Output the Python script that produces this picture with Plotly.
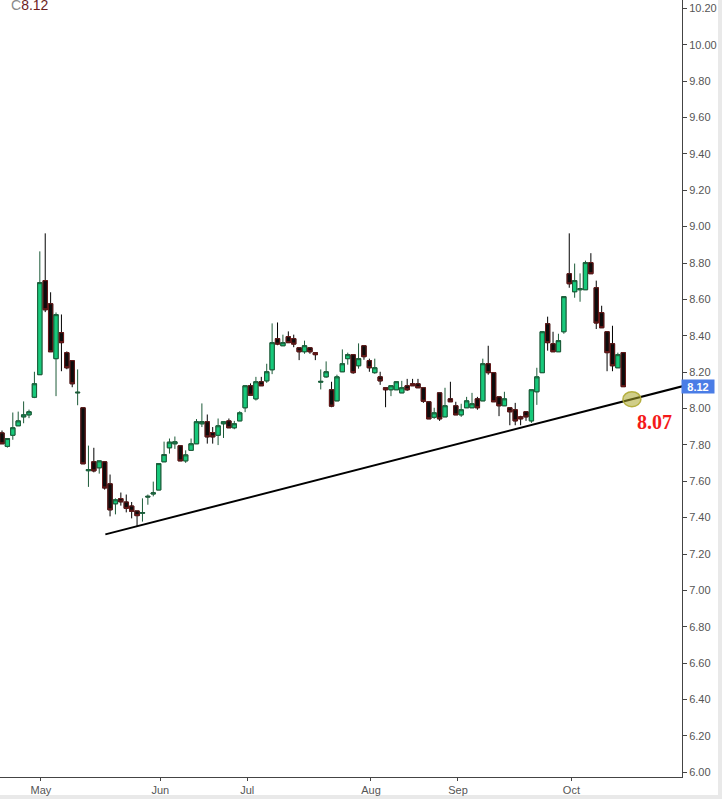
import plotly.graph_objects as go

# ---- data ----
opens = [7.866, 7.792, 7.853, 7.905, 7.954, 7.965, 8.062, 8.186, 8.703, 8.576,
         8.274, 8.417, 8.307, 8.263, 8.086, 8.004, 7.658, 7.707, 7.674, 7.707,
         7.586, 7.476, 7.505, 7.486, 7.464, 7.437, 7.424, 7.513, 7.530, 7.552,
         7.707, 7.784, 7.806, 7.795, 7.712, 7.770, 7.806, 7.916, 7.927, 7.868,
         7.853, 7.916, 7.932, 7.894, 7.932, 8.004, 8.125, 8.053, 8.147, 8.152,
         8.213, 8.384, 8.345, 8.395, 8.384, 8.334, 8.312, 8.334, 8.307, 8.145,
         8.174, 8.103, 8.042, 8.202, 8.274, 8.296, 8.235, 8.345, 8.263, 8.197,
         8.174, 8.114, 8.103, 8.103, 8.086, 8.125, 8.136, 8.136, 8.114, 8.037,
         7.952, 8.086, 7.954, 8.053, 8.015, 7.965, 8.004, 8.004, 8.053, 8.042,
         8.246, 8.197, 8.064, 8.015, 8.004, 7.993, 7.954, 7.982, 7.932, 8.092,
         8.197, 8.466, 8.356, 8.312, 8.422, 8.741, 8.642, 8.653, 8.653, 8.802,
         8.664, 8.527, 8.422, 8.356, 8.224, 8.307]
highs = [7.879, 7.835, 7.978, 7.983, 8.039, 7.994, 8.202, 8.864, 8.963, 8.639,
         8.528, 8.517, 8.314, 8.263, 8.215, 8.004, 7.796, 7.784, 7.712, 7.707,
         7.637, 7.506, 7.538, 7.527, 7.486, 7.437, 7.506, 7.527, 7.598, 7.697,
         7.818, 7.835, 7.846, 7.795, 7.770, 7.835, 7.942, 8.028, 7.967, 7.898,
         7.945, 7.927, 7.945, 7.932, 7.985, 8.125, 8.138, 8.174, 8.174, 8.246,
         8.468, 8.473, 8.406, 8.424, 8.406, 8.334, 8.373, 8.334, 8.307, 8.215,
         8.259, 8.147, 8.186, 8.325, 8.307, 8.296, 8.358, 8.345, 8.274, 8.274,
         8.202, 8.114, 8.125, 8.147, 8.152, 8.163, 8.163, 8.163, 8.114, 8.037,
         8.004, 8.086, 8.114, 8.147, 8.037, 8.026, 8.064, 8.086, 8.064, 8.274,
         8.345, 8.197, 8.064, 8.092, 8.004, 8.031, 7.960, 7.982, 8.103, 8.224,
         8.422, 8.505, 8.422, 8.411, 8.615, 8.963, 8.797, 8.743, 8.813, 8.854,
         8.703, 8.565, 8.422, 8.455, 8.307, 8.307]
lows = [7.806, 7.785, 7.828, 7.905, 7.919, 7.947, 8.057, 8.186, 8.530, 8.312,
        8.068, 8.205, 8.216, 8.117, 8.018, 7.696, 7.569, 7.649, 7.642, 7.554,
        7.407, 7.418, 7.466, 7.429, 7.396, 7.349, 7.378, 7.471, 7.517, 7.552,
        7.707, 7.752, 7.778, 7.712, 7.701, 7.770, 7.806, 7.898, 7.807, 7.807,
        7.799, 7.838, 7.894, 7.886, 7.932, 7.980, 8.073, 8.044, 8.125, 8.141,
        8.189, 8.348, 8.345, 8.362, 8.337, 8.266, 8.301, 8.301, 8.266, 8.105,
        8.169, 8.007, 8.042, 8.202, 8.241, 8.191, 8.219, 8.268, 8.202, 8.191,
        8.130, 8.007, 8.068, 8.103, 8.086, 8.097, 8.125, 8.114, 8.031, 7.943,
        7.943, 7.932, 7.954, 8.037, 7.965, 7.954, 8.004, 8.004, 7.993, 8.042,
        8.186, 8.037, 7.958, 8.015, 7.908, 7.908, 7.908, 7.932, 7.921, 8.020,
        8.197, 8.318, 8.312, 8.312, 8.411, 8.664, 8.609, 8.587, 8.653, 8.741,
        8.437, 8.444, 8.205, 8.205, 8.224, 8.120]
closes = [7.806, 7.835, 7.894, 7.932, 7.965, 7.982, 8.136, 8.692, 8.543, 8.312,
          8.516, 8.362, 8.224, 8.136, 8.089, 7.696, 7.664, 7.657, 7.712, 7.563,
          7.443, 7.498, 7.487, 7.451, 7.435, 7.411, 7.428, 7.517, 7.536, 7.697,
          7.747, 7.815, 7.817, 7.712, 7.745, 7.806, 7.927, 7.928, 7.844, 7.844,
          7.905, 7.927, 7.894, 7.916, 7.976, 8.125, 8.073, 8.147, 8.125, 8.202,
          8.362, 8.354, 8.362, 8.362, 8.354, 8.312, 8.345, 8.312, 8.296, 8.149,
          8.202, 8.013, 8.174, 8.246, 8.296, 8.197, 8.274, 8.285, 8.224, 8.224,
          8.152, 8.103, 8.125, 8.147, 8.114, 8.103, 8.125, 8.114, 8.040, 7.943,
          7.976, 7.943, 8.015, 8.037, 7.965, 7.993, 8.042, 8.026, 8.004, 8.246,
          8.197, 8.037, 8.015, 8.053, 7.982, 7.932, 7.943, 7.954, 8.103, 8.174,
          8.422, 8.362, 8.312, 8.373, 8.615, 8.686, 8.703, 8.659, 8.802, 8.741,
          8.470, 8.444, 8.307, 8.235, 8.296, 8.120]

month_ticks = [7.2, 29.3, 45.4, 68.3, 84.4, 105.4]
month_labels = ["May", "Jun", "Jul", "Aug", "Sep", "Oct"]
price_ticks = [round(6.0 + 0.2 * k, 2) for k in range(22)]

trend_x = [19.13, 125.9]
trend_y = [7.308, 8.122]
touch_x, touch_y = 116.6, 8.051
target_label = "8.07"
target_x, target_y = 120.7, 7.927
last_close = 8.12

idx = list(range(len(opens)))
body_hi = [max(o, c) for o, c in zip(opens, closes)]
body_lo = [min(o, c) for o, c in zip(opens, closes)]

UP_FILL = "#17c97b"
UP_LINE = "#1d5b39"
DN_FILL = "#0c0c0c"
DN_LINE = "#6e1a1a"

fig = go.Figure()
# full candles (wicks)
fig.add_trace(go.Candlestick(
    x=idx, open=opens, high=highs, low=lows, close=closes,
    increasing=dict(line=dict(color=UP_LINE, width=1), fillcolor=UP_FILL),
    decreasing=dict(line=dict(color="#000000", width=1), fillcolor=DN_FILL),
    hoverinfo="skip", showlegend=False))
# bodies with coloured borders
fig.add_trace(go.Candlestick(
    x=idx, open=opens, high=body_hi, low=body_lo, close=closes,
    increasing=dict(line=dict(color=UP_LINE, width=1), fillcolor=UP_FILL),
    decreasing=dict(line=dict(color=DN_LINE, width=1), fillcolor=DN_FILL),
    hoverinfo="skip", showlegend=False))

fig.add_shape(type="line", xref="x", yref="y",
              x0=trend_x[0], y0=trend_y[0], x1=trend_x[1], y1=trend_y[1],
              line=dict(color="#000000", width=2))
fig.add_shape(type="circle", xref="x", yref="y",
              xsizemode="pixel", ysizemode="pixel",
              xanchor=touch_x, yanchor=touch_y,
              x0=-9, x1=9, y0=-7.5, y1=7.5,
              fillcolor="rgba(170,165,40,0.55)",
              line=dict(color="rgba(175,170,50,0.9)", width=1.5))

fig.add_annotation(x=target_x, y=target_y, xref="x", yref="y",
                   text="<b>" + target_label + "</b>", showarrow=False,
                   font=dict(family="Liberation Serif", size=20, color="#f41a1a"))

fig.add_annotation(x=1, y=last_close, xref="paper", yref="y",
                   xanchor="left", yanchor="middle", xshift=-1,
                   text="<b>%.2f</b>" % last_close, showarrow=False,
                   bgcolor="#4a7de6", width=30, height=11, borderpad=1,
                   font=dict(family="Liberation Sans", size=11, color="#ffffff"))

fig.add_annotation(x=0, y=1, xref="paper", yref="paper",
                   xanchor="left", yanchor="middle", xshift=9, yshift=-5,
                   text="<span style='color:#8a8a8a'>C</span>%.2f" % last_close,
                   showarrow=False,
                   font=dict(family="Liberation Sans", size=14, color="#6b1e1e"))

# light frame bands on the right and bottom edges
fig.add_shape(type="rect", xref="paper", yref="paper",
              x0=1.0528, x1=1.07, y0=-0.03, y1=1.0,
              fillcolor="#e9e9e9", line=dict(width=0), layer="below")
fig.add_shape(type="rect", xref="paper", yref="paper",
              x0=-0.01, x1=1.07, y0=-0.0283, y1=-0.0232,
              fillcolor="#e9e9e9", line=dict(width=0), layer="below")

fig.update_layout(
    width=722, height=799,
    margin=dict(l=0, r=40, t=0, b=22),
    paper_bgcolor="#ffffff", plot_bgcolor="#ffffff",
    showlegend=False, hovermode=False,
    boxgap=0.12, boxgroupgap=0.1,
    xaxis=dict(range=[-0.37, 125.87], rangeslider=dict(visible=False),
               tickmode="array", tickvals=month_ticks, ticktext=month_labels,
               showgrid=False, zeroline=False, showline=True,
               linecolor="#444444", linewidth=1,
               ticks="outside", ticklen=3, tickcolor="#444444",
               tickfont=dict(family="Liberation Sans", size=11, color="#555555")),
    yaxis=dict(side="right", range=[5.974, 10.246],
               tickmode="array", tickvals=price_ticks,
               ticktext=["%.2f" % v for v in price_ticks],
               showgrid=False, zeroline=False, showline=True,
               linecolor="#444444", linewidth=1,
               ticks="outside", ticklen=4, tickcolor="#444444",
               tickfont=dict(family="Liberation Sans", size=11, color="#555555")),
)

fig.write_html(
    "out.html",
    config={"displayModeBar": False},
    post_script="document.body.style.margin='0';document.body.style.padding='0';document.body.style.overflow='hidden';",
)
